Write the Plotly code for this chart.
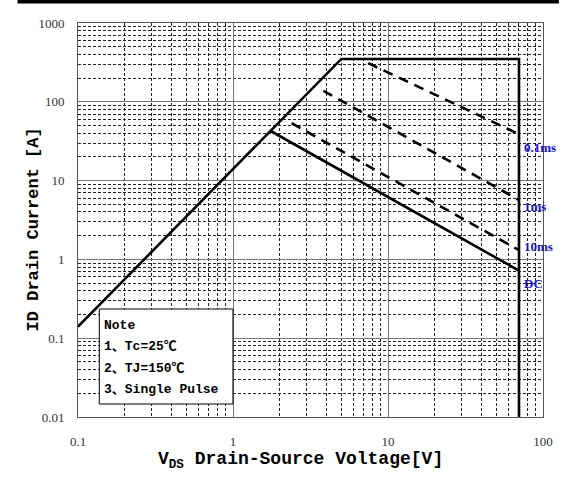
import plotly.graph_objects as go

# ---- data ----
limit_v = [0.1, 5, 70, 70]
limit_i = [0.14, 350, 350, 0.01]
dc_v = [1.75, 70]
dc_i = [42.6, 0.72]
p01_v = [7.45, 70]
p01_i = [309, 38.8]
p1_v = [3.83, 70]
p1_i = [138, 5.67]
p10_v = [2.39, 70]
p10_i = [53.5, 1.31]

x_ticks = [0.1, 1, 10, 100]
x_ticktext = ["0.1", "1", "10", "100"]
y_ticks = [0.01, 0.1, 1, 10, 100, 1000]
y_ticktext = ["0.01", "0.1", "1", "10", "100", "1000"]

curve_labels = ["0.1ms", "1ms", "10ms", "DC"]
note_lines = ["Note", "1、Tc=25℃", "2、TJ=150℃", "3、Single Pulse"]

SERIF = "Liberation Serif, Noto Sans CJK SC, serif"
MONO = "Liberation Mono, Noto Sans CJK SC, monospace"

fig = go.Figure()
solid = dict(color="black", width=2.6)
dashed = dict(color="black", width=2.6, dash="10px,7px")
fig.add_trace(go.Scatter(x=limit_v, y=limit_i, mode="lines", line=solid))
fig.add_trace(go.Scatter(x=dc_v, y=dc_i, mode="lines", line=solid))
fig.add_trace(go.Scatter(x=p01_v, y=p01_i, mode="lines", line=dashed))
fig.add_trace(go.Scatter(x=p1_v, y=p1_i, mode="lines", line=dashed))
fig.add_trace(go.Scatter(x=p10_v, y=p10_i, mode="lines", line=dashed))

L, R, T, B = 78, 18, 23, 63
W, H = 565, 480
PW, PH = W - L - R, H - T - B

def px(xp):
    return (xp - L) / PW

def py(yp):
    return (H - B - yp) / PH

minor = dict(dtick="D1", showgrid=True, gridcolor="#222", gridwidth=0.7,
             griddash="3px,2px", ticks="")
axis_common = dict(type="log", showgrid=True, gridcolor="#777", gridwidth=1,
                   showline=True, linecolor="#555", linewidth=1, mirror=True,
                   ticks="", zeroline=False, minor=minor,
                   tickfont=dict(family=SERIF, size=13, color="#333"))

fig.update_xaxes(range=[-1, 2], tickvals=x_ticks, ticktext=x_ticktext,
                 ticklabelstandoff=12, **axis_common)
fig.update_yaxes(range=[-2, 3], tickvals=y_ticks, ticktext=y_ticktext,
                 ticklabelstandoff=10, **axis_common)

shapes = [
    # thick top bar
    dict(type="rect", xref="paper", yref="paper", x0=px(17), x1=px(563),
         y0=py(3.5), y1=py(-1), fillcolor="black", line=dict(width=0),
         layer="above"),
    # note box
    dict(type="rect", xref="paper", yref="paper", x0=px(99.5), x1=px(234.3),
         y0=py(404), y1=py(309), fillcolor="white",
         line=dict(color="black", width=1), layer="above"),
]

annotations = []
label_y = [147, 206, 247, 283]
for txt, yy in zip(curve_labels, label_y):
    annotations.append(dict(text="<b>" + txt + "</b>", xref="paper", yref="paper",
                            x=px(526), y=py(yy), xanchor="left", yanchor="middle",
                            showarrow=False,
                            font=dict(family=SERIF, size=13, color="#1010e0")))
note_y = [325, 346, 368, 389]
for txt, yy in zip(note_lines, note_y):
    annotations.append(dict(text="<b>" + txt + "</b>", xref="paper", yref="paper",
                            x=px(102), y=py(yy), xanchor="left", yanchor="middle",
                            showarrow=False,
                            font=dict(family=MONO, size=13, color="black")))
annotations.append(dict(text="<b>V<sub>DS</sub> Drain-Source Voltage[V]</b>",
                        xref="paper", yref="paper", x=px(302), y=py(460),
                        xanchor="center", yanchor="middle", showarrow=False,
                        font=dict(family=MONO, size=18, color="black")))
annotations.append(dict(text="<b>ID Drain Current [A]</b>",
                        xref="paper", yref="paper", x=px(33), y=py(229),
                        xanchor="center", yanchor="middle", showarrow=False,
                        textangle=-90,
                        font=dict(family=MONO, size=17, color="black")))

fig.update_layout(width=W, height=H, margin=dict(l=L, r=R, t=T, b=B),
                  paper_bgcolor="white", plot_bgcolor="white",
                  showlegend=False, shapes=shapes, annotations=annotations)

fig.write_html("out.html", config={"displayModeBar": False},
               post_script="document.body.style.margin='0';")
